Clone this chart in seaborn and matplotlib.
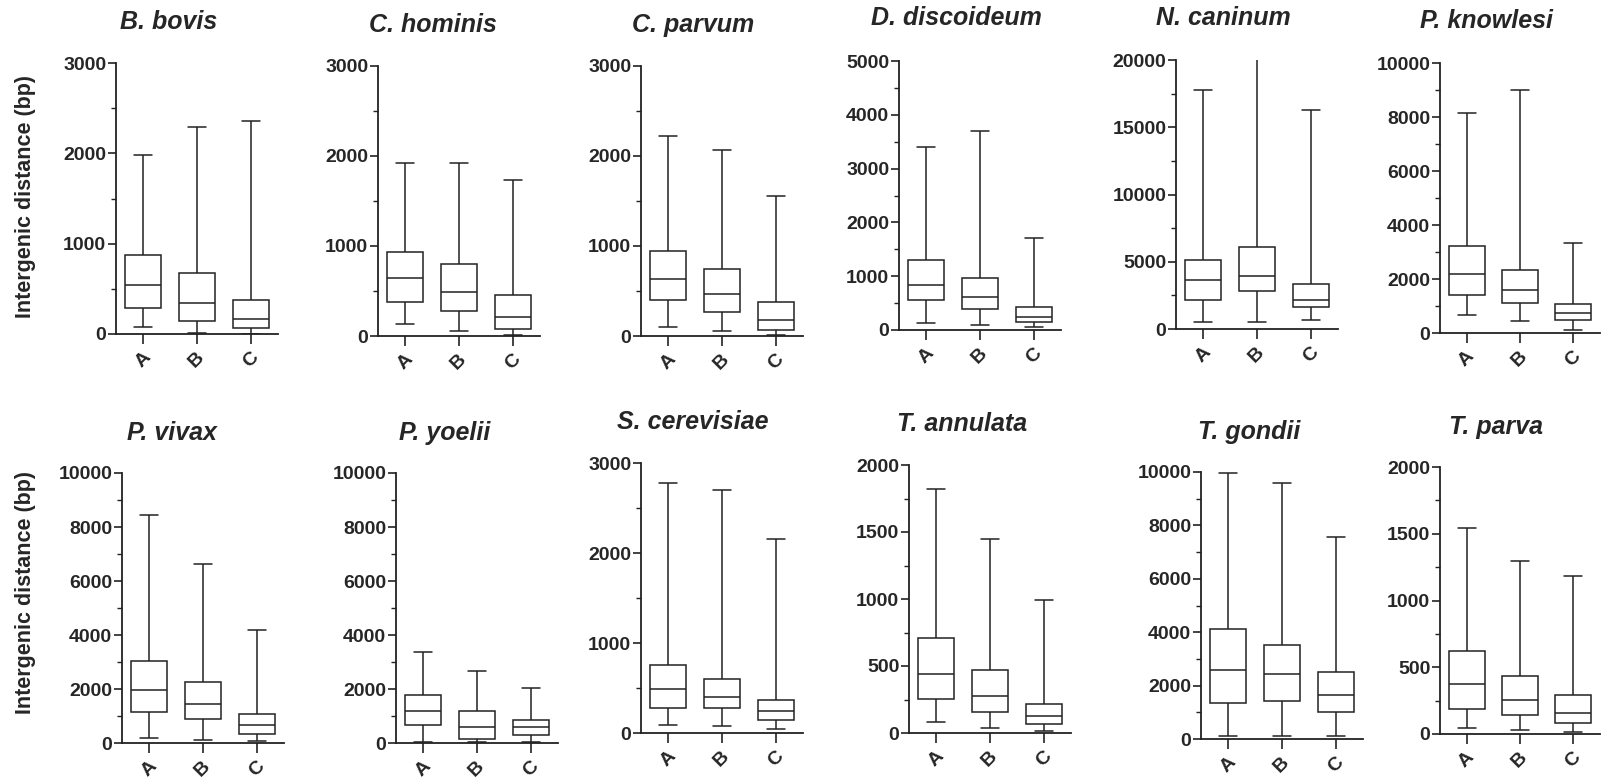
import numpy as np
import pandas as pd
import matplotlib
matplotlib.use("Agg")
import matplotlib.pyplot as plt
from matplotlib.ticker import MultipleLocator
import seaborn as sns

# ---------------- data ----------------
categories = ["A", "B", "C"]
species = ["B. bovis", "C. hominis", "C. parvum", "D. discoideum", "N. caninum", "P. knowlesi",
           "P. vivax", "P. yoelii", "S. cerevisiae", "T. annulata", "T. gondii", "T. parva"]

# five-number summaries per species, per category A, B, C
mins = [[74, 15, 3], [130, 56, 7], [104, 52, 7], [136, 93, 62], [545, 545, 693], [654, 444, 99],
        [185, 123, 62], [37, 20, 37], [92, 74, 48], [84, 35, 15], [100, 100, 100], [45, 28, 13]]
q1s = [[289, 141, 67], [378, 281, 78], [400, 263, 70], [557, 384, 149], [2178, 2847, 1609], [1395, 1111, 494],
       [1136, 889, 346], [679, 160, 309], [277, 277, 140], [256, 159, 67], [1332, 1407, 996], [185, 140, 80]]
medians = [[537, 344, 167], [648, 493, 207], [633, 463, 178], [835, 606, 248], [3614, 3911, 2178], [2173, 1605, 741],
           [1963, 1457, 654], [1173, 580, 580], [488, 395, 240], [440, 278, 124], [2578, 2441, 1631], [373, 253, 155]]
q3s = [[870, 674, 378], [937, 804, 452], [940, 740, 377], [1300, 959, 427], [5149, 6114, 3342], [3235, 2346, 1086],
       [3049, 2272, 1062], [1778, 1198, 864], [754, 602, 369], [706, 470, 216], [4134, 3524, 2528], [623, 435, 290]]
maxs = [[1981, 2296, 2363], [1918, 1918, 1733], [2222, 2066, 1554], [3403, 3694, 1714], [17772, 21000, 16287], [8148, 8988, 3346],
        [8444, 6630, 4173], [3370, 2679, 2037], [2778, 2704, 2161], [1819, 1448, 994], [9963, 9601, 7572], [1540, 1298, 1180]]

y_top = [3000, 3000, 3000, 5000, 20000, 10000, 10000, 10000, 3000, 2000, 10000, 2000]
y_major = [1000, 1000, 1000, 1000, 5000, 2000, 2000, 2000, 1000, 500, 2000, 500]

ylabel_text = "Intergenic distance (bp)"

# ---------------- build long table ----------------
rows = []
for i, sp in enumerate(species):
    for j, cat in enumerate(categories):
        for v in (mins[i][j], q1s[i][j], medians[i][j], q3s[i][j], maxs[i][j]):
            rows.append({"species": sp, "group": cat, "value": v})
df = pd.DataFrame(rows)

# ---------------- layout (pixels) ----------------
W, H = 1604, 783
axes_px = [  # left, right, top, bottom
    (116, 278, 63, 334), (378, 540, 66, 336), (641, 803, 66, 336),
    (899, 1061, 61, 330), (1176, 1338, 60, 329), (1440, 1600, 63, 333),
    (122, 284, 473, 743), (396, 558, 473, 743), (641, 803, 463, 733),
    (909, 1071, 465, 733), (1201, 1363, 472, 739), (1440, 1600, 467, 734),
]
title_px = [(169, 22), (433, 25), (693, 25), (956, 18), (1223, 18), (1486, 21),
            (172, 433), (445, 433), (693, 422), (962, 424), (1249, 432), (1496, 427)]

sns.set_theme(style="ticks")
plt.rcParams["font.family"] = ["Liberation Sans", "DejaVu Sans"]
plt.rcParams["font.weight"] = "bold"

fig = plt.figure(figsize=(W / 100, H / 100), dpi=100)
fig.patch.set_facecolor("white")

lc = "#222222"
for i, sp in enumerate(species):
    L, R, T, B = axes_px[i]
    ax = fig.add_axes([L / W, 1 - B / H, (R - L) / W, (B - T) / H])
    sub = df[df["species"] == sp]
    sns.boxplot(data=sub, x="group", y="value", order=categories, whis=(0, 100),
                width=0.68, color="white", linecolor=lc, linewidth=1.1,
                showfliers=False, ax=ax)
    ax.set_xlim(-0.5, 2.5)
    ax.set_ylim(0, y_top[i])
    ax.yaxis.set_major_locator(MultipleLocator(y_major[i]))
    ax.yaxis.set_minor_locator(MultipleLocator(y_major[i] / 2))
    ax.set_xlabel("")
    ax.set_ylabel("")
    ax.set_facecolor("white")
    for s in ("top", "right"):
        ax.spines[s].set_visible(False)
    for s in ("left", "bottom"):
        ax.spines[s].set_linewidth(1.3)
        ax.spines[s].set_color(lc)
    ax.tick_params(axis="y", which="major", direction="out", length=6, width=1.2,
                   color=lc, labelsize=14, pad=1)
    ax.tick_params(axis="y", which="minor", direction="out", length=3.5, width=1.0, color=lc)
    ax.tick_params(axis="x", which="major", direction="out", length=7, width=1.2,
                   color=lc, labelsize=14, pad=4)
    for lab in ax.get_yticklabels():
        lab.set_fontweight("bold")
    for lab in ax.get_xticklabels():
        lab.set_fontweight("bold")
        lab.set_rotation(45)
        lab.set_ha("center")
    tx, ty = title_px[i]
    fig.text(tx / W, 1 - ty / H, sp, fontsize=18, fontweight="bold", fontstyle="italic",
             ha="center", va="center")

fig.text(26 / W, 1 - 197 / H, ylabel_text, rotation=90, fontsize=15.5, fontweight="bold",
         ha="center", va="center")
fig.text(26 / W, 1 - 592 / H, ylabel_text, rotation=90, fontsize=15.5, fontweight="bold",
         ha="center", va="center")

fig.savefig("out.png", dpi=100, facecolor="white")
